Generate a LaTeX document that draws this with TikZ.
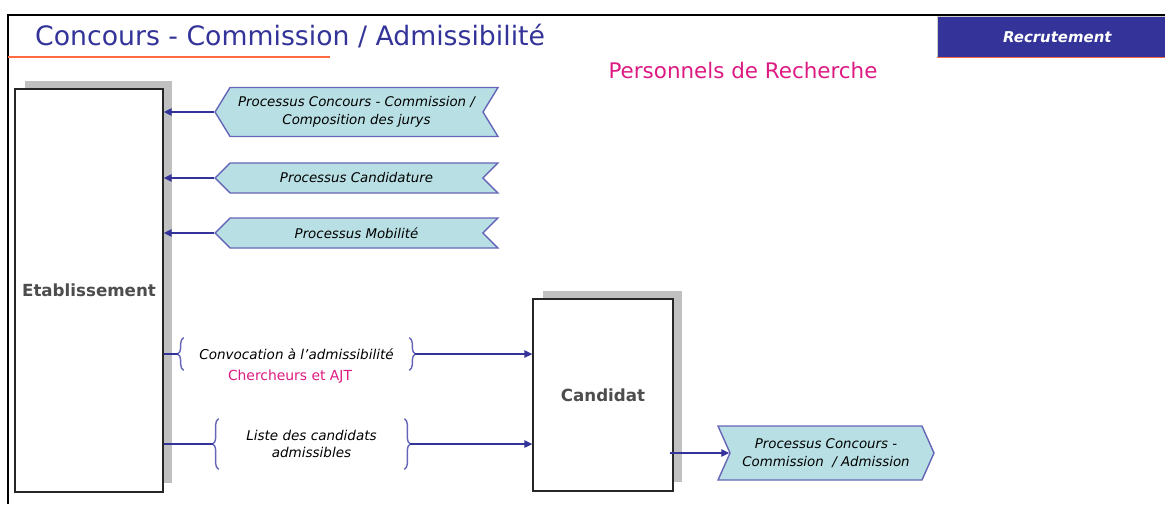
\documentclass[tikz,border=0pt]{standalone}
\usepackage{fontspec}
\setmainfont{DejaVu Sans}
\usetikzlibrary{arrows.meta,positioning,shapes.symbols,shadows,decorations.pathreplacing}
\definecolor{rblue}{HTML}{333399}
\definecolor{rline}{HTML}{6666B8}
\definecolor{rcyan}{HTML}{B8E0E4}
\definecolor{rorange}{HTML}{FF6A45}
\definecolor{rpink}{HTML}{DC1A82}
\definecolor{rgrey}{HTML}{4D4D4D}
\definecolor{rshade}{HTML}{C0C0C0}

\begin{document}
\begin{tikzpicture}[x=0.02cm,y=-0.02cm,
  box/.style={draw=black!85,line width=0.8pt,fill=white,
              general shadow={fill=rshade,shadow xshift=1.9mm,shadow yshift=1.7mm},
              font=\fontsize{9.5}{11}\selectfont\bfseries,text=rgrey},
  proc/.style={signal,signal to=west,signal from=east,draw=rline,line width=0.8pt,
               fill=rcyan,align=center,inner sep=0pt,
               font=\fontsize{7.6}{10}\selectfont\itshape},
  procout/.style={proc,signal to=east,signal from=west},
  memo/.style={align=center,inner sep=0pt,font=\fontsize{7.7}{10}\selectfont\itshape},
  brc/.style={draw=rline,line width=0.8pt,decorate,decoration={brace,amplitude=1.2mm}},
  ln/.style={draw=rblue,line width=0.8pt},
  arr/.style={ln,-{Triangle[length=1.6mm,width=1.5mm]}}]

  \useasboundingbox (0,0) rectangle (1165,504);

  % page frame and header
  \draw[line width=1.2pt] (8,504) -- (8,15) -- (1165,15);
  \node[anchor=west,text=rblue,font=\fontsize{15.2}{17}\selectfont] (title) at (29,36)
    {Concours - Commission / Admissibilité};
  \draw[rorange,line width=0.9pt] (8,57) -- (330,57);
  \node[fill=rblue,draw=black!20,anchor=north west,inner sep=0pt,minimum width=4.56cm,
        minimum height=0.82cm,text=white,font=\fontsize{8.5}{10}\selectfont\bfseries\itshape]
        (rec) at (937,16) {\hspace{2.4mm}Recrutement};
  \draw[rorange,line width=0.9pt] (rec.south west) -- (rec.south east);
  \node[text=rpink,font=\fontsize{12.2}{14}\selectfont] (pers) at (743,71) {Personnels de Recherche};

  % actors
  \node[box,minimum width=2.96cm,minimum height=8.06cm] (etab) at (89,290.5) {Etablissement};
  \node[box,minimum width=2.8cm,minimum height=3.84cm] (cand) at (603,395) {Candidat};

  % incoming processes
  \node[proc,signal pointer angle=117,minimum width=5.66cm,minimum height=0.98cm] (p1)
    at (356.5,112) {Processus Concours - Commission /\\Composition des jurys};
  \node[proc,signal pointer angle=90,minimum width=5.66cm,minimum height=0.6cm] (p2)
    at (356.5,178) {Processus Candidature};
  \node[proc,signal pointer angle=90,minimum width=5.66cm,minimum height=0.6cm] (p3)
    at (356.5,233) {Processus Mobilité};
  \draw[arr] (p1.west) -- (etab.east |- p1.west);
  \draw[arr] (p2.west) -- (etab.east |- p2.west);
  \draw[arr] (p3.west) -- (etab.east |- p3.west);

  % documents sent to the candidate
  \node[memo,minimum width=4.5cm,minimum height=0.64cm] (conv) at (296.5,354)
    {Convocation à l'admissibilité};
  \node[text=rpink,font=\fontsize{7.9}{9}\selectfont] (cat) at (290,377) {Chercheurs et AJT};
  \draw[brc] (conv.south west) -- (conv.north west);
  \draw[brc] (conv.north east) -- (conv.south east);
  \draw[ln] (etab.east |- conv.west) -- ([xshift=-1.2mm]conv.west);
  \draw[arr] ([xshift=1.2mm]conv.east) -- (cand.west |- conv.east);

  \node[memo,minimum width=3.7cm,minimum height=1cm] (list) at (311.5,444)
    {Liste des candidats\\admissibles};
  \draw[brc] (list.south west) -- (list.north west);
  \draw[brc] (list.north east) -- (list.south east);
  \draw[ln] (etab.east |- list.west) -- ([xshift=-1.2mm]list.west);
  \draw[arr] ([xshift=1.2mm]list.east) -- (cand.west |- list.east);

  % next step
  \node[procout,signal pointer angle=132,minimum width=4.32cm,minimum height=1.08cm] (out)
    at (826,453) {Processus Concours -\\Commission\ \ / Admission};
  \draw[arr] ([xshift=-0.8mm]cand.east |- out.west) -- (out.west);
\end{tikzpicture}
\end{document}
